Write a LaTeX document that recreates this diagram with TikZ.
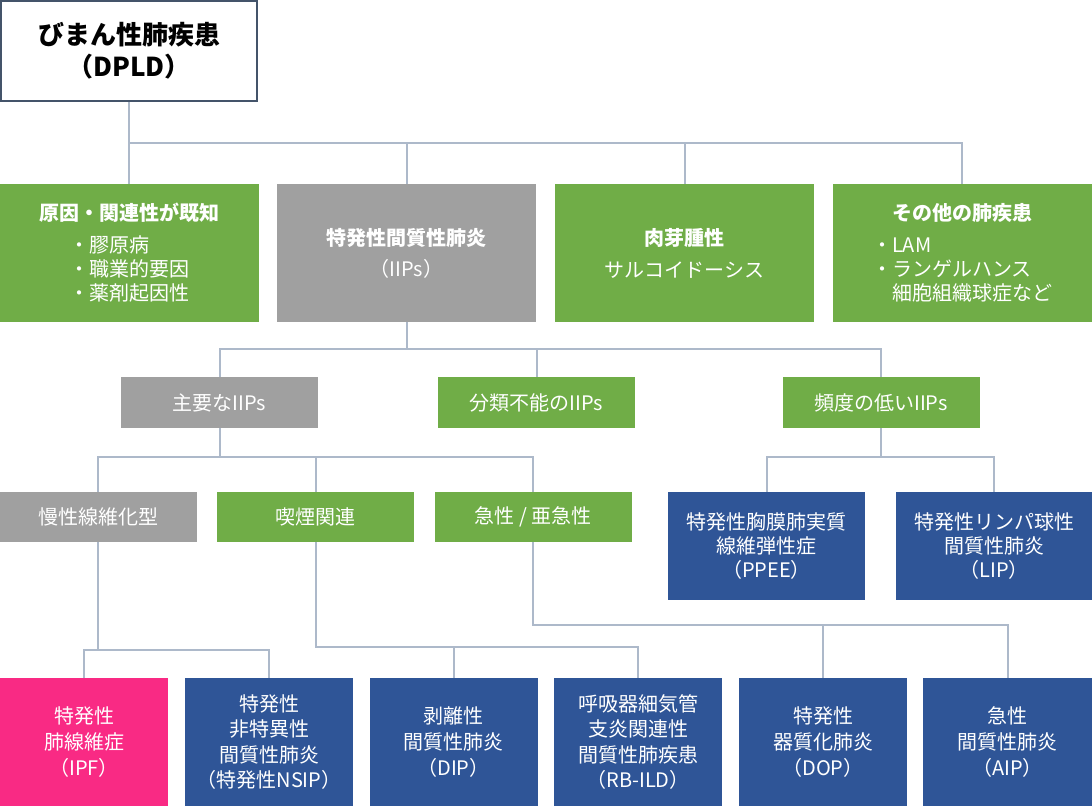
\documentclass[tikz,border=0pt]{standalone}
\usepackage{fontspec}
\setmainfont{Noto Sans CJK JP}
\usepackage{tikz}
\usepackage{xcolor}
\definecolor{vert}{HTML}{70AD47}
\definecolor{gris}{HTML}{A0A0A0}
\definecolor{bleu}{HTML}{2F5597}
\definecolor{rose}{HTML}{F92A84}
\definecolor{trait}{HTML}{ADB9CA}
\definecolor{cadre}{HTML}{44546A}
\newcommand\puce[2]{\makebox[#1][l]{#2}}

\begin{document}
\begin{tikzpicture}[x=1pt,y=-1pt,
    racine/.style={draw=cadre,line width=2pt,fill=white,text=black,inner sep=0pt,align=center,
      minimum width=256pt,minimum height=100pt,font=\fontsize{26}{32}\selectfont\bfseries},
    boite/.style={inner sep=0pt,align=center,text=white,font=\fontsize{20}{24}\selectfont},
    rang1/.style={boite,minimum width=259pt,minimum height=138pt},
    rang2/.style={boite,minimum width=197pt,minimum height=51pt},
    rang3/.style={boite,minimum width=197pt,minimum height=50pt},
    rare3/.style={boite,fill=bleu,minimum width=197pt,minimum height=108pt},
    feuille/.style={boite,fill=bleu,minimum width=168pt,minimum height=128pt,
      font=\fontsize{20}{25.6}\selectfont},
    ligne/.style={draw=trait,line width=2pt}]
        \useasboundingbox (0,0) rectangle (1092,806);
        % Racine
        \path (129,51) node[racine] (dpld) {びまん性肺疾患\\（DPLD）};
        % Premier niveau
        \path (129,253) node[rang1,fill=vert] (cause) {\textbf{原因・関連性が既知}\\[8pt]
            \puce{120pt}{・膠原病}\\\puce{120pt}{・職業的要因}\\\puce{120pt}{・薬剤起因性}};
        \path (406.5,253) node[rang1,fill=gris] (iips) {\textbf{特発性間質性肺炎}\\[7pt]（IIPs）};
        \path (684.5,253) node[rang1,fill=vert] (granu) {\textbf{肉芽腫性}\\[8pt]サルコイドーシス};
        \path (962,253) node[rang1,fill=vert] (autre) {\textbf{その他の肺疾患}\\[8pt]
            \puce{180pt}{・LAM}\\\puce{180pt}{・ランゲルハンス}\\\puce{180pt}{\hphantom{・}細胞組織球症など}};
        % Deuxieme niveau
        \path (219.5,402.5) node[rang2,fill=gris] (majeur) {主要なIIPs};
        \path (536.5,402.5) node[rang2,fill=vert] (inclass) {分類不能のIIPs};
        \path (881,402.5) node[rang2,fill=vert] (rare) {頻度の低いIIPs};
        % Troisieme niveau
        \path (98,517) node[rang3,fill=gris] (chron) {慢性線維化型};
        \path (315.5,517) node[rang3,fill=vert] (tabac) {喫煙関連};
        \path (533,517) node[rang3,fill=vert] (aigu) {急性 / 亜急性};
        \path (766.5,546) node[rare3] (ppee) {特発性胸膜肺実質\\線維弾性症\\（PPEE）};
        \path (994,546) node[rare3,minimum width=196pt] (lip) {特発性リンパ球性\\間質性肺炎\\（LIP）};
        % Feuilles
        \path (84,742) node[feuille,fill=rose] (ipf) {特発性\\肺線維症\\（IPF）};
        \path (269,742) node[feuille] (nsip) {特発性\\非特異性\\間質性肺炎\\（特発性NSIP）};
        \path (453.5,742) node[feuille] (dip) {剥離性\\間質性肺炎\\（DIP）};
        \path (638,742) node[feuille] (rbild) {呼吸器細気管\\支炎関連性\\間質性肺疾患\\（RB-ILD）};
        \path (823,742) node[feuille] (dop) {特発性\\器質化肺炎\\（DOP）};
        \path (1007.5,742) node[feuille,minimum width=169pt] (aip) {急性\\間質性肺炎\\（AIP）};
        % Jonctions
        \coordinate (j1) at (0,143);
        \coordinate (j2) at (0,349);
        \coordinate (j3) at (0,457);
        \coordinate (j4) at (0,650);
        \coordinate (j5) at (0,647);
        \coordinate (j6) at (0,625);
        % Traits
        \draw[ligne] (dpld.south) -- (dpld.south |- cause.north);
        \draw[ligne] (dpld.south |- j1) -| (autre.north);
        \draw[ligne] (iips.north |- j1) -- (iips.north);
        \draw[ligne] (granu.north |- j1) -- (granu.north);
        \draw[ligne] (iips.south) -- (iips.south |- j2);
        \draw[ligne] (majeur.north) |- (rare.north |- j2) -- (rare.north);
        \draw[ligne] (inclass.north) -- (inclass.north |- j2);
        \draw[ligne] (majeur.south) -- (majeur.south |- j3);
        \draw[ligne] (chron.north) |- (aigu.north |- j3) -- (aigu.north);
        \draw[ligne] (tabac.north) -- (tabac.north |- j3);
        \draw[ligne] (rare.south) -- (rare.south |- j3);
        \draw[ligne] (ppee.north) |- (lip.north |- j3) -- (lip.north);
        \draw[ligne] (chron.south) -- (chron.south |- j4);
        \draw[ligne] (ipf.north) |- (nsip.north |- j4) -- (nsip.north);
        \draw[ligne] (tabac.south) |- (rbild.north |- j5) -- (rbild.north);
        \draw[ligne] (dip.north) -- (dip.north |- j5);
        \draw[ligne] (aigu.south) |- (aip.north |- j6) -- (aip.north);
        \draw[ligne] (dop.north) -- (dop.north |- j6);
     \end{tikzpicture}
\end{document}
